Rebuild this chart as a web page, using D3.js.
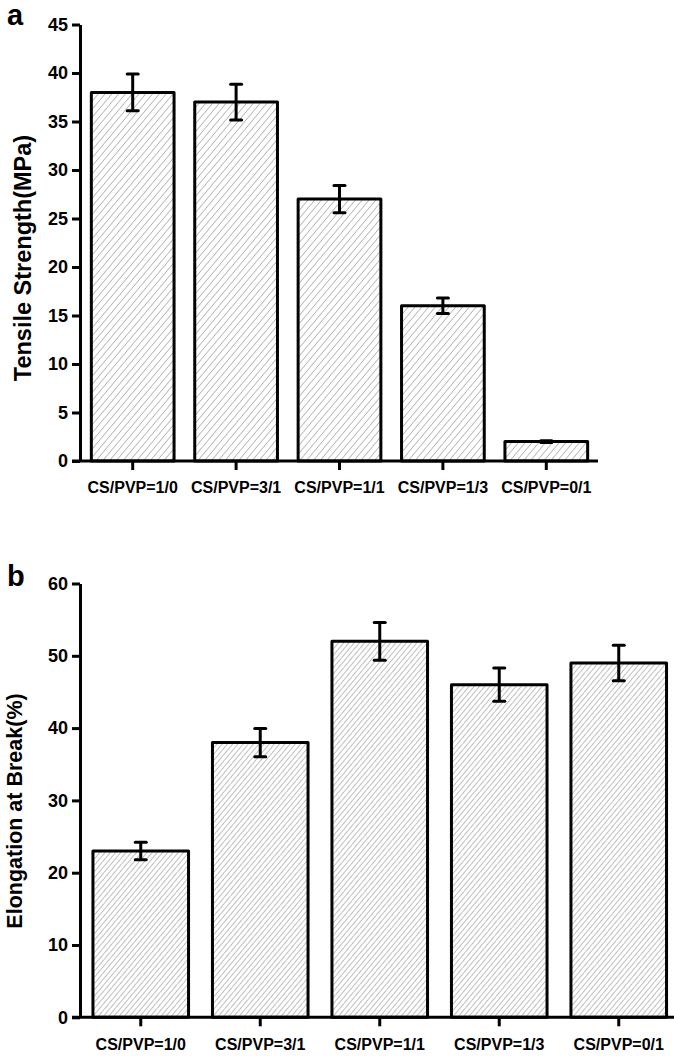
<!DOCTYPE html>
<html><head><meta charset="utf-8">
<script src="https://cdn.jsdelivr.net/npm/d3@7"></script>
<style>
html,body{margin:0;padding:0;background:#fff;}
svg{display:block;font-family:"Liberation Sans",Arial,sans-serif;font-weight:bold;}
</style></head>
<body>
<svg id="chart" width="674" height="1056"></svg>
<script>
const categories = ["CS/PVP=1/0","CS/PVP=3/1","CS/PVP=1/1","CS/PVP=1/3","CS/PVP=0/1"];
const tensile = [38, 37, 27, 16, 2];
const tensileErr = [1.9, 1.85, 1.4, 0.8, 0.1];
const elongation = [23, 38, 52, 46, 49];
const elongationErr = [1.2, 1.95, 2.6, 2.3, 2.45];
const ticksA = [0,5,10,15,20,25,30,35,40,45];
const ticksB = [0,10,20,30,40,50,60];

const svg = d3.select("#chart");
const defs = svg.append("defs");
function hatch(id, spacing){
  const p = defs.append("pattern").attr("id", id).attr("patternUnits","userSpaceOnUse")
    .attr("width", spacing).attr("height", spacing).attr("patternTransform","rotate(40)");
  p.append("rect").attr("width",spacing).attr("height",spacing).attr("fill","#fff");
  p.append("line").attr("x1",0).attr("y1",0).attr("x2",0).attr("y2",spacing)
    .attr("stroke","#8a8a8a").attr("stroke-width",1.1);
}
hatch("hatchA", 5.2);
hatch("hatchB", 4.0);

function panel(cfg){
  const g = svg.append("g");
  const x = d3.scaleBand().domain(categories).range(cfg.xr).paddingInner(0.2).paddingOuter(0.1);
  const y = d3.scaleLinear().domain([0, cfg.max]).range(cfg.yr);

  // bars
  g.selectAll("rect.bar").data(cfg.values).join("rect")
    .attr("x",(d,i)=>x(categories[i])).attr("width",x.bandwidth())
    .attr("y",d=>y(d)).attr("height",d=>y(0)-y(d))
    .attr("fill",`url(#${cfg.pat})`).attr("stroke","#000").attr("stroke-width",3)
    .attr("stroke-linejoin","round");

  // error bars
  const eb = g.selectAll("g.eb").data(cfg.values).join("g");
  eb.append("line")
    .attr("x1",(d,i)=>x(categories[i])+x.bandwidth()/2).attr("x2",(d,i)=>x(categories[i])+x.bandwidth()/2)
    .attr("y1",(d,i)=>y(d+cfg.err[i])).attr("y2",(d,i)=>y(d-cfg.err[i]))
    .attr("stroke","#000").attr("stroke-width",3);
  [1,-1].forEach(s=>{
    eb.append("line")
      .attr("x1",(d,i)=>x(categories[i])+x.bandwidth()/2-5.5).attr("x2",(d,i)=>x(categories[i])+x.bandwidth()/2+5.5)
      .attr("y1",(d,i)=>y(d+s*cfg.err[i])).attr("y2",(d,i)=>y(d+s*cfg.err[i]))
      .attr("stroke","#000").attr("stroke-width",3).attr("stroke-linecap","round");
  });

  // y axis
  const ya = g.append("g").attr("transform",`translate(${cfg.xr[0]-1},0)`)
    .call(d3.axisLeft(y).tickValues(cfg.ticks).tickSize(8).tickPadding(4).tickSizeOuter(0));
  ya.select(".domain").attr("stroke-width",3);
  ya.selectAll(".tick line").attr("stroke-width",3);
  ya.selectAll(".tick text").attr("font-size",18).attr("font-weight","bold").attr("fill","#000")
    .attr("font-family","Liberation Sans, Arial, sans-serif");

  // x axis
  const xa = g.append("g").attr("transform",`translate(0,${cfg.yr[0]})`)
    .call(d3.axisBottom(x).tickSize(9).tickPadding(12).tickSizeOuter(0));
  xa.select(".domain").attr("d",`M${cfg.xr[0]-9},0H${cfg.xEnd}`).attr("stroke-width",3);
  xa.selectAll(".tick line").attr("stroke-width",3);
  xa.selectAll(".tick text").attr("font-size",16).attr("font-weight","bold").attr("fill","#000")
    .attr("font-family","Liberation Sans, Arial, sans-serif");

  // axis title
  g.append("text").attr("transform",`translate(${cfg.titleX},${cfg.titleY}) rotate(-90)`)
    .attr("text-anchor","middle").attr("font-size",cfg.titleSize).text(cfg.title);

  // panel letter
  g.append("text").attr("x",7).attr("y",cfg.letterY).attr("font-size",29).text(cfg.letter);
}

panel({values:tensile, err:tensileErr, max:45, ticks:ticksA, xr:[81,598], xEnd:598, yr:[461,24.5],
  pat:"hatchA", title:"Tensile Strength(MPa)", titleX:31, titleY:258, titleSize:23.5, letter:"a", letterY:25});
panel({values:elongation, err:elongationErr, max:60, ticks:ticksB, xr:[81,678.5], xEnd:680, yr:[1017.3,583.5],
  pat:"hatchB", title:"Elongation at Break(%)", titleX:22, titleY:811, titleSize:21.5, letter:"b", letterY:586});
</script>
</body></html>
